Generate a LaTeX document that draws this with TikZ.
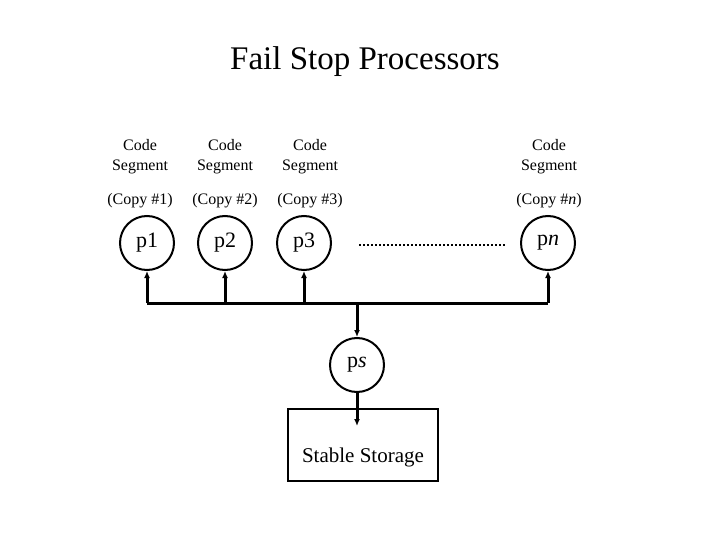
\documentclass[tikz,border=0pt]{standalone}
\usepackage{fontspec}
\setmainfont{Liberation Serif}
\usetikzlibrary{shapes.geometric, arrows.meta, positioning}
\begin{document}
\begin{tikzpicture}[x=1pt, y=-1pt,
            proc/.style={circle, draw, line width=2pt, minimum size=54pt, inner sep=0pt, font=\fontsize{22}{24}\selectfont},
            seg/.style={align=center, font=\fontsize{16}{20}\selectfont},
            bus/.style={line width=3pt},
            link/.style={-{Latex[length=7pt,width=6pt]}, line width=3pt}
        ]
            \useasboundingbox (0,0) rectangle (720,540);
            \node[font=\fontsize{33}{36}\selectfont] (title) at (365,62) {Fail Stop Processors};

            % code segments and copies
            \node[seg] (c1) at (140,157) {Code\\Segment};
            \node[seg] (c2) at (225,157) {Code\\Segment};
            \node[seg] (c3) at (310,157) {Code\\Segment};
            \node[seg] (cn) at (549,157) {Code\\Segment};
            \node[seg] (k1) at (140,201) {(Copy \#1)};
            \node[seg] (k2) at (225,201) {(Copy \#2)};
            \node[seg] (k3) at (310,201) {(Copy \#3)};
            \node[seg] (kn) at (549,201) {(Copy \#\textit{n})};

            % processors
            \node[proc] (p1) at (147,243) {p1};
            \node[proc] (p2) at (225,243) {p2};
            \node[proc] (p3) at (304,243) {p3};
            \node[proc] (pn) at (548,243) {p\textit{n}};
            \node[proc] (ps) at (357,365) {p\textit{s}};
            \draw[line width=2pt, dotted] (359,245) -- (505,245);

            \node[cylinder, shape border rotate=90, draw, line width=2pt, minimum width=150pt, minimum height=72pt, aspect=0.6, inner sep=0pt, font=\fontsize{21}{24}\selectfont, text depth=0pt] (store) at (363,445) {};
            \node[font=\fontsize{21}{24}\selectfont] (storetext) at (363,457) {Stable Storage};

            % bus
            \coordinate (b1) at (147,303);
            \coordinate (bn) at (548,303);
            \draw[bus] (b1) -- (bn);
            \foreach \p/\x in {p1/147, p2/225, p3/304, pn/548}
                \draw[link] (\x,303) -- (\p);
            \draw[link] (357,303) -- (ps);
            \draw[link] (ps) -- (357,426);
        \end{tikzpicture}
\end{document}
